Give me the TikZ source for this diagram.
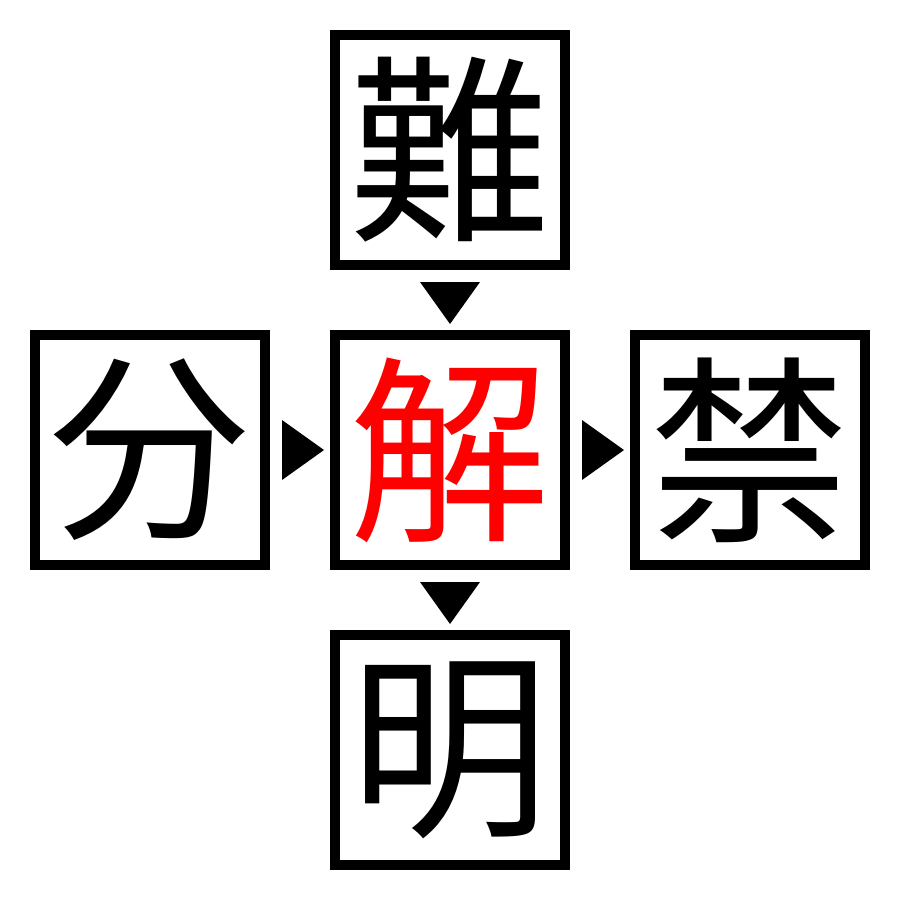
\documentclass[tikz,border=0pt]{standalone}
\usepackage{fontspec}
\newfontfamily\cjk{Noto Sans CJK JP}
\begin{document}
\begin{tikzpicture}[x=0.01cm,y=-0.01cm,
  kbox/.style={draw=black,line width=2.845pt,minimum width=2.3cm,minimum height=2.3cm,inner sep=0pt,font=\cjk\fontsize{57}{57}\selectfont},
  tri/.style={fill=black,draw=none}]
\useasboundingbox (0,0) rectangle (900,900);
\fill[white] (0,0) rectangle (900,900);
\node[kbox] (top) at (450,150) {難};
\node[kbox] (left) at (150,450) {分};
\node[kbox,text=red] (center) at (450,450) {解};
\node[kbox] (right) at (750,450) {禁};
\node[kbox] (bottom) at (450,750) {明};
\fill[tri] (420,282) -- (480,282) -- (450,324) -- cycle;
\fill[tri] (420,582) -- (480,582) -- (450,624) -- cycle;
\fill[tri] (282,420) -- (282,480) -- (324,450) -- cycle;
\fill[tri] (582,420) -- (582,480) -- (624,450) -- cycle;
\end{tikzpicture}
\end{document}
